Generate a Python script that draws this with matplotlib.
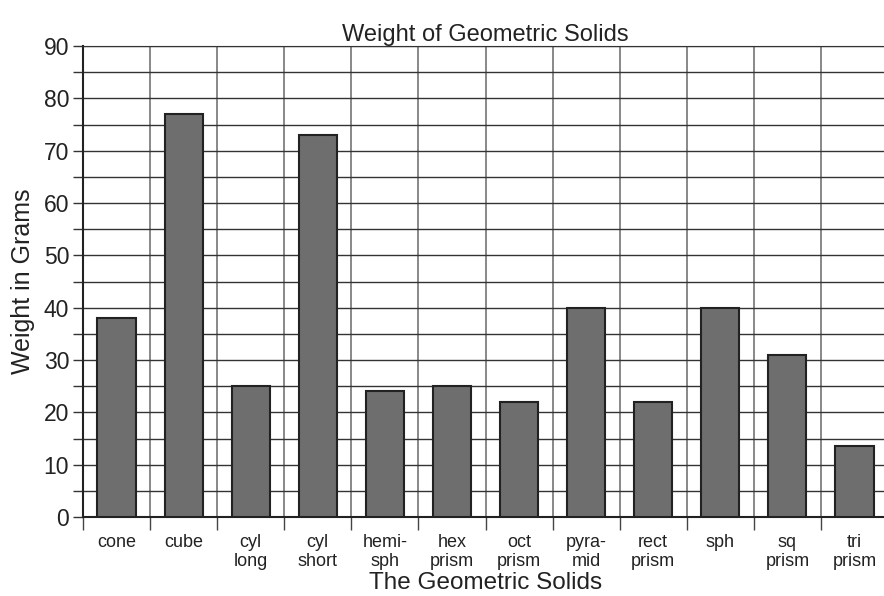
import matplotlib.pyplot as plt
import numpy as np
from matplotlib.ticker import MultipleLocator, FixedLocator

plt.rcParams['font.family'] = ['Liberation Sans', 'DejaVu Sans']

solids = ['cone', 'cube', 'cyl\nlong', 'cyl\nshort', 'hemi-\nsph', 'hex\nprism',
          'oct\nprism', 'pyra-\nmid', 'rect\nprism', 'sph', 'sq\nprism', 'tri\nprism']
weights = [38, 77, 25, 73, 24, 25, 22, 40, 22, 40, 31, 13.5]

fig = plt.figure(figsize=(8.84, 5.96), dpi=100)
ax = fig.add_axes([83/884, 79/596, 805/884, 471/596])

x = np.arange(len(solids))
ax.bar(x, weights, width=0.57, color='#6e6e6e', edgecolor='#222222', linewidth=1.5, zorder=3)

ax.set_xlim(-0.5, len(solids) - 0.5)
ax.set_ylim(0, 90)

# boundaries as major ticks (grid), names as minor ticks
ax.xaxis.set_major_locator(FixedLocator(np.arange(-0.5, len(solids), 1.0)))
ax.set_xticklabels([])
ax.xaxis.set_minor_locator(FixedLocator(x))
ax.set_xticklabels(solids, minor=True, fontsize=13, linespacing=1.2, color='#222222')
ax.tick_params(axis='x', which='major', length=9, width=1, color='#444444')
ax.tick_params(axis='x', which='minor', length=0, pad=12)

ax.yaxis.set_major_locator(MultipleLocator(10))
ax.yaxis.set_minor_locator(MultipleLocator(5))
ax.tick_params(axis='y', which='both', length=7, width=1, color='#333333',
               labelsize=16.5, labelcolor='#222222', pad=3)

ax.grid(axis='x', which='major', color='#888888', linewidth=1.4, zorder=0)
ax.grid(axis='y', which='both', color='#333333', linewidth=1.0, zorder=0)

for s in ['left', 'bottom']:
    ax.spines[s].set_color('#222222')
    ax.spines[s].set_linewidth(1.5)
ax.spines['right'].set_visible(False)
ax.spines['top'].set_color('#333333')

ax.set_title('Weight of Geometric Solids', fontsize=17, pad=2, color='#222222')
ax.set_xlabel('The Geometric Solids', fontsize=17.5, labelpad=1, color='#222222')
ax.set_ylabel('Weight in Grams', fontsize=18, labelpad=6, color='#222222')

fig.savefig('out.png', dpi=100)
